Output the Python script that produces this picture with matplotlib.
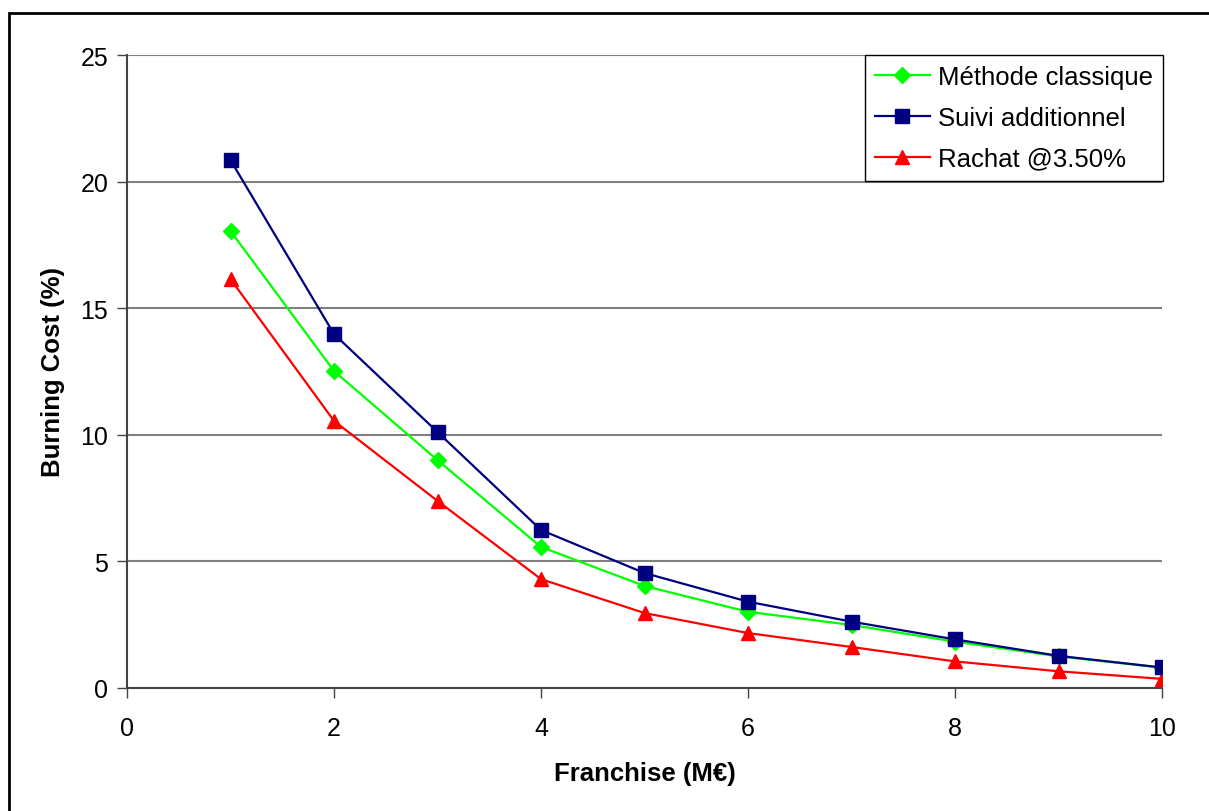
import matplotlib
matplotlib.use("Agg")
import matplotlib.pyplot as plt
from matplotlib.patches import Rectangle

# ---------------------------------------------------------------------------
# Data
# ---------------------------------------------------------------------------
franchise = [1, 2, 3, 4, 5, 6, 7, 8, 9, 10]
classique = [18.05, 12.52, 9.00, 5.57, 4.03, 3.01, 2.49, 1.83, 1.25, 0.80]
suivi     = [20.85, 13.98, 10.11, 6.24, 4.54, 3.41, 2.62, 1.92, 1.27, 0.81]
rachat    = [16.15, 10.55, 7.39, 4.30, 2.96, 2.17, 1.62, 1.05, 0.66, 0.36]

series_labels = ["Méthode classique", "Suivi additionnel", "Rachat @3.50%"]

C_GREEN = "#00FF00"
C_NAVY  = "#000080"
C_RED   = "#FF0000"

plt.rcParams["font.family"] = ["Liberation Sans", "DejaVu Sans"]

fig = plt.figure(figsize=(12.09, 8.12), dpi=100)
ax = fig.add_axes([127 / 1209, 1 - 689 / 812, (1162 - 127) / 1209, (689 - 56) / 812])

ax.plot(franchise, classique, color=C_GREEN, lw=1.6, marker="D", ms=8.5,
        label=series_labels[0], zorder=3)
ax.plot(franchise, suivi, color=C_NAVY, lw=1.6, marker="s", ms=9.5,
        label=series_labels[1], zorder=4)
ax.plot(franchise, rachat, color=C_RED, lw=1.6, marker="^", ms=10.5,
        label=series_labels[2], zorder=3)

ax.set_xlim(0, 10)
ax.set_ylim(0, 25)
ax.set_xticks(range(0, 11, 2))
ax.set_yticks(range(0, 26, 5))
ax.yaxis.grid(True, color="#808080", lw=1.5)
ax.set_axisbelow(True)

ax.spines[["top", "right"]].set_visible(False)
for side in ("left", "bottom"):
    ax.spines[side].set_color("#444444")
    ax.spines[side].set_linewidth(1.5)
ax.tick_params(axis="both", direction="out", length=7, width=1, colors="#444444",
               labelcolor="black", labelsize=18)
ax.tick_params(axis="x", pad=13)
ax.tick_params(axis="y", pad=6.5)

ax.set_xlabel("Franchise (M€)", fontsize=18.5, fontweight="bold", labelpad=15)
ax.set_ylabel("Burning Cost (%)", fontsize=18.5, fontweight="bold", labelpad=11)

leg = ax.legend(loc="upper right", bbox_to_anchor=(1.001, 1.0), fontsize=18.5,
                frameon=True, fancybox=False, edgecolor="black", framealpha=1,
                borderpad=0.4, labelspacing=0.65, handlelength=2.15,
                handletextpad=0.3, borderaxespad=0)
leg.get_frame().set_linewidth(1.0)

# outer chart border (only the left and top edges fall inside the image)
fig.patches.append(Rectangle((9 / 1209, -0.05), 1.1, 1.05 - 14 / 812,
                             transform=fig.transFigure, fill=False,
                             edgecolor="black", lw=2))

fig.savefig("out.png", dpi=100)
